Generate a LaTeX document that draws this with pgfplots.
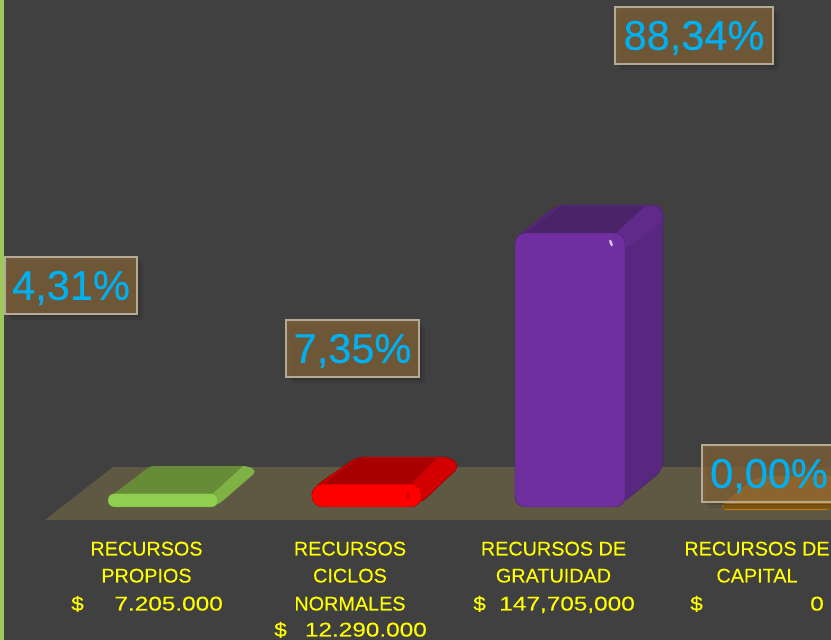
\documentclass[border=0pt]{standalone}
\usepackage{graphicx}
\usepackage{pgfplots}
\pgfplotsset{compat=1.18}
\usepackage{fontspec}
\setmainfont{Liberation Sans}
\newfontfamily\pctfont[FakeBold=0.35]{Liberation Sans}
\newfontfamily\labfont[FakeBold=0.15]{Liberation Sans}
\definecolor{bg}{HTML}{404040}
\definecolor{strip}{HTML}{9CC95A}
\definecolor{floorc}{HTML}{5F5843}
\definecolor{gfront}{HTML}{8FCE4E}
\definecolor{gtop}{HTML}{668C37}
\definecolor{gbev}{HTML}{7FB144}
\definecolor{rfront}{HTML}{FF0000}
\definecolor{rtop}{HTML}{A80000}
\definecolor{rbev}{HTML}{D20000}
\definecolor{pfront}{HTML}{6F2F9F}
\definecolor{ptop}{HTML}{4A2368}
\definecolor{pside}{HTML}{58277F}
\definecolor{pbev}{HTML}{60298A}
\definecolor{orangec}{HTML}{BE7E18}
\definecolor{boxf}{RGB}{133,101,56}
\definecolor{boxd}{HTML}{B5AA96}
\definecolor{pct}{HTML}{00B0F0}
\definecolor{lab}{HTML}{FFFF00}
\newcommand\lfont{\labfont\fontsize{19.8}{20}\selectfont}
\newcommand\lab[3]{\node[anchor=base,text=lab,font=\lfont,inner sep=0pt] at ({#1},{640-#2}) {#3};}
\newcommand\labe[3]{\node[anchor=base east,text=lab,font=\lfont,inner sep=0pt] at ({#1},{640-#2}) {\scalebox{1.23}[1]{#3}};}
\newcommand\labw[3]{\node[anchor=base west,text=lab,font=\lfont,inner sep=0pt] at ({#1},{640-#2}) {\scalebox{1.15}[1]{#3}};}
% x1 x2 y1 y2 text
\newcommand\pbox[5]{%
  \fill[black,opacity=.08] ({#1+6},{640-#3-6}) rectangle ({#2+6},{640-#4-6});
  \fill[black,opacity=.10] ({#1+3},{640-#3-3}) rectangle ({#2+3},{640-#4-3});
  \filldraw[fill=boxf,fill opacity=.72,draw=boxd,line width=1.8pt] ({#1},{640-#3}) rectangle ({#2},{640-#4});
  \node[text=pct,font=\pctfont\fontsize{41.5}{42}\selectfont,inner sep=0pt] at ({(#1+#2)/2},{640-(#3+#4)/2-2.5}) {#5};}
\pgfplotsset{base/.style={scale only axis,width=831pt,height=640pt,at={(0,0)},anchor=south west,
  axis lines=none,enlargelimits=false,xmin=0,xmax=831}}
\begin{document}
\begin{tikzpicture}[x=1pt,y=1pt]
\clip (0,0) rectangle (831,640);
% pixel-coordinates axis: background, floor, depth faces
\begin{axis}[base,ymin=0,ymax=640,y dir=reverse]
\addplot[draw=none,fill=bg] coordinates {(0,0)(831,0)(831,640)(0,640)} --cycle;
\addplot[draw=none,fill=strip] coordinates {(0,0)(4,0)(4,640)(0,640)} --cycle;
\addplot[draw=none,fill=floorc] coordinates {(45,520)(113,467)(831,467)(831,520)} --cycle;
% green depth
\addplot[draw=none,fill=gbev,rounded corners=5pt] coordinates {(110,497)(151,466)(248,466)(257,471)(218,505)} --cycle;
\addplot[draw=none,fill=gtop,rounded corners=2pt] coordinates {(110,497)(151,466)(243,466)(210,496)} --cycle;
% red depth
\addplot[draw=rtop!80!black,fill=rbev,rounded corners=7pt] coordinates {(314,487)(357,457)(450,457)(460,466)(421,503)} --cycle;
\addplot[draw=none,fill=rtop,rounded corners=2pt] coordinates {(318,487)(358,458)(437,458)(408,487)} --cycle;
% purple depth
\addplot[draw=ptop,fill=pside,rounded corners=9pt] coordinates {(518,236)(557,205)(663,205)(663,470)(620,505)} --cycle;
\addplot[draw=none,fill=ptop,rounded corners=3pt] coordinates {(522,235)(561,206)(646,206)(616,235)} --cycle;
\addplot[draw=none,fill=pbev,rounded corners=3pt] coordinates {(614,235)(645,206)(655,206)(662,213)(662,222)(627,247)} --cycle;
% orange depth
\addplot[draw=none,fill=orangec,rounded corners=12pt] coordinates {(716,510)(757,476)(870,476)(835,510)} --cycle;
\end{axis}
% value axis: bars (value in millions of pesos)
\begin{axis}[base,ymin=-71.7,ymax=273.3]
\addplot[ybar,bar width=110pt,fill=gfront,draw=gbev!90!black,rounded corners=6.5pt] coordinates {(163,7.205)};
\addplot[ybar,bar width=110pt,fill=rfront,draw=rtop,rounded corners=11pt] coordinates {(366.8,12.29)};
\addplot[ybar,bar width=110pt,fill=pfront,draw=ptop,rounded corners=10pt] coordinates {(570,147.705)};
\addplot[ybar,bar width=110pt,fill=orangec!70!black,draw=orangec!70!black,line width=5pt] coordinates {(778,0)};
\end{axis}
% highlights
\fill[white!70!pfront,rotate around={20:(611,397)}] (611,397) ellipse (1.4 and 3.6);
\fill[rbev] (408,145) ellipse (1.5 and 4);
% percentage boxes
\pbox{615}{773}{7}{64}{88,34\%}
\pbox{5}{137}{257}{314}{4,31\%}
\pbox{286}{419}{320}{377}{7,35\%}
\pbox{702}{836}{445}{502}{0,00\%}
% category labels
\lab{146.5}{555.5}{RECURSOS}
\lab{146.5}{582.5}{PROPIOS}
\labw{71}{610.5}{\$}\labe{223}{610.5}{7.205.000}
\lab{350}{555.5}{RECURSOS}
\lab{350}{582.5}{CICLOS}
\lab{350}{610.5}{NORMALES}
\labw{274}{636.5}{\$}\labe{427}{636.5}{12.290.000}
\lab{553.5}{555.5}{RECURSOS DE}
\lab{553.5}{582.5}{GRATUIDAD}
\labw{473}{610.5}{\$}\labe{635}{610.5}{147,705,000}
\lab{757}{555.5}{RECURSOS DE}
\lab{757}{582.5}{CAPITAL}
\labw{690}{610.5}{\$}\labe{824}{610.5}{0}
\end{tikzpicture}
\end{document}
